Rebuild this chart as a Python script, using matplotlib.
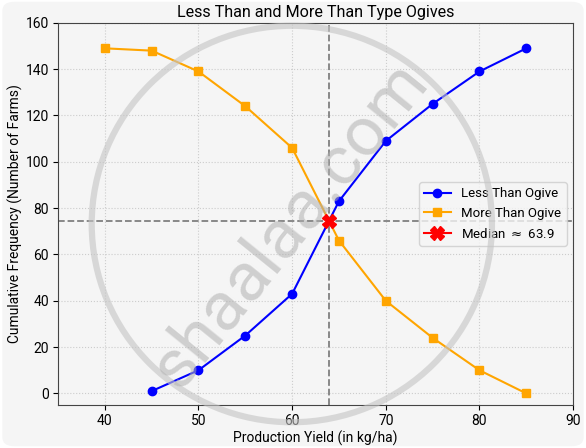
import numpy as np
import matplotlib
matplotlib.use('Agg')
import matplotlib.pyplot as plt
from matplotlib.patches import FancyBboxPatch, Ellipse

plt.rcParams['font.family'] = ['Roboto', 'DejaVu Sans']

# Ogive data
less_x = [45, 50, 55, 60, 65, 70, 75, 80, 85]
less_y = [1, 10, 25, 43, 83, 109, 125, 139, 149]
more_x = [40, 45, 50, 55, 60, 65, 70, 75, 80, 85]
more_y = [149, 148, 139, 124, 106, 66, 40, 24, 10, 0]
median_x = 63.9
median_y = 74.5

fig = plt.figure(figsize=(5.86, 4.48), dpi=100)
fig.patch.set_facecolor('white')
bg = FancyBboxPatch((0.004, 0.004), 0.992, 0.992, boxstyle='round,pad=0,rounding_size=0.02',
                    transform=fig.transFigure, facecolor='#f5f5f5', edgecolor='none', zorder=-10)
fig.patches.append(bg)

ax = fig.add_axes([0.099, 0.096, 0.879, 0.853])
ax.set_facecolor('#f5f5f5')

ax.plot(less_x, less_y, color='blue', marker='o', markersize=6, linewidth=1.5, label='Less Than Ogive')
ax.plot(more_x, more_y, color='orange', marker='s', markersize=6, linewidth=1.5, label='More Than Ogive')
ax.axvline(median_x, color='gray', linestyle='--', linewidth=1.3)
ax.axhline(median_y, color='gray', linestyle='--', linewidth=1.3)
ax.plot(median_x, median_y, color='red', marker='X', markersize=10, label=r'Median $\approx$ 63.9', zorder=5)

ax.set_xlim(35, 90)
ax.set_ylim(-5, 160)
ax.set_xticks([40, 50, 60, 70, 80, 90])
ax.set_yticks([0, 20, 40, 60, 80, 100, 120, 140, 160])
ax.grid(True, linestyle=':', color='#cccccc', linewidth=0.8)
for s in ax.spines.values():
    s.set_color('#444444')

ax.set_title('Less Than and More Than Type Ogives', fontsize=11.6, pad=4)
ax.set_xlabel('Production Yield (in kg/ha)', fontsize=10, labelpad=2)
ax.set_ylabel('Cumulative Frequency (Number of Farms)', fontsize=10, labelpad=2)
ax.tick_params(labelsize=10, pad=3)
ax.legend(loc='center right', fontsize=9.5, facecolor='#f5f5f5')

# watermark
fig.patches.append(Ellipse((0.498, 0.5), 0.683, 0.885, transform=fig.transFigure, fill=False,
                           edgecolor='#c4c4c4', linewidth=4.5, alpha=0.6, zorder=10))
fig.text(0.495, 0.5, 'shaalaa.com', fontsize=50, color='#b0b0b0', alpha=0.55,
         rotation=51, ha='center', va='center', zorder=10)

fig.savefig('out.png', dpi=100)
